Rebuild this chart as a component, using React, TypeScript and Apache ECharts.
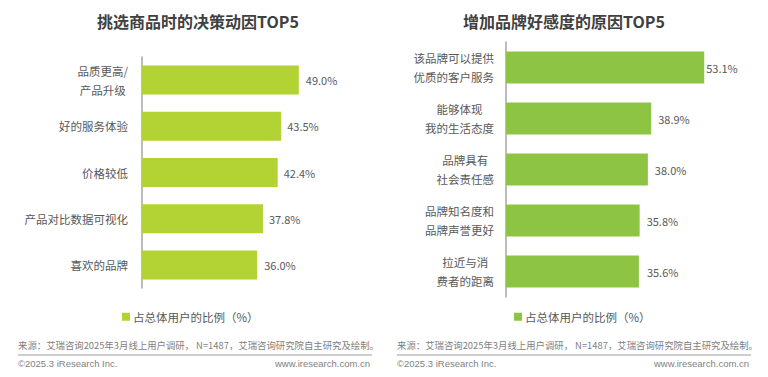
import React, { useEffect, useRef } from "react";
import * as echarts from "echarts";

const leftTitle = "挑选商品时的决策动因TOP5";
const leftCategories = ["品质更高/\n产品升级", "好的服务体验", "价格较低", "产品对比数据可视化", "喜欢的品牌"];
const leftValues = [49.0, 43.5, 42.4, 37.8, 36.0];

const rightTitle = "增加品牌好感度的原因TOP5";
const rightCategories = ["该品牌可以提供\n优质的客户服务", "能够体现\n我的生活态度", "品牌具有\n社会责任感", "品牌知名度和\n品牌声誉更好", "拉近与消\n费者的距离"];
const rightValues = [53.1, 38.9, 38.0, 35.8, 35.6];

const seriesName = "占总体用户的比例（%）";
const sourceText = "来源：艾瑞咨询2025年3月线上用户调研， N=1487，艾瑞咨询研究院自主研究及绘制。";
const copyrightText = "©2025.3 iResearch Inc.";
const siteText = "www.iresearch.com.cn";

const FONT = "'Noto Sans CJK SC', 'Noto Sans', sans-serif";
const LATIN = "'Liberation Sans', Arial, sans-serif";

type Cfg = {
  title: string;
  categories: string[];
  values: number[];
  color: string;
  titleX: number;
  gridLeft: number;
  gridTop: number;
  gridHeight: number;
  gridWidth: number;
  labelMargin: number;
  barWidth: number;
  labelDistance: number[];
  legendLeft: number;
  footLeft: number;
  footRight: number;
};

function buildOption(c: Cfg): any {
  const labelRich = {
    c: { align: "center", fontSize: 11.5, lineHeight: 19, color: "#595959", fontFamily: FONT },
  };
  return {
    animation: false,
    backgroundColor: "#ffffff",
    textStyle: { fontFamily: FONT },
    grid: {
      left: c.gridLeft,
      top: c.gridTop,
      width: c.gridWidth,
      height: c.gridHeight,
      containLabel: false,
    },
    xAxis: { type: "value", min: 0, max: 60, show: false },
    yAxis: {
      type: "category",
      inverse: true,
      data: c.categories,
      axisLine: { show: true, lineStyle: { color: "#a6a6a6", width: 1.5 } },
      axisTick: { show: false },
      splitLine: { show: false },
      axisLabel: {
        margin: c.labelMargin,
        align: "right",
        formatter: (v: string) =>
          v
            .split("\n")
            .map((l) => "{c|" + l + "}")
            .join("\n"),
        rich: labelRich,
      },
    },
    legend: {
      left: c.legendLeft,
      top: 306,
      icon: "rect",
      itemWidth: 8,
      itemHeight: 8,
      textStyle: { fontSize: 11.5, color: "#595959", fontFamily: FONT, padding: [0, 0, 0, -2] },
      data: [seriesName],
    },
    series: [
      {
        type: "bar",
        name: seriesName,
        barWidth: c.barWidth,
        itemStyle: { color: c.color },
        data: c.values.map((v, i) => ({
          value: v,
          label: { distance: c.labelDistance[i] },
        })),
        label: {
          show: true,
          position: "right",
          color: "#595959",
          fontSize: 11,
          fontFamily: FONT,
          formatter: (p: any) => Number(p.value).toFixed(1) + "%",
        },
      },
    ],
    graphic: [
      {
        type: "text",
        x: c.titleX,
        y: 21,
        style: {
          text: c.title,
          fontSize: 16,
          fontWeight: "bold",
          fill: "#404040",
          fontFamily: FONT,
          align: "center",
          verticalAlign: "middle",
        },
      },
      {
        type: "text",
        x: c.footLeft,
        y: 345,
        style: {
          text: sourceText,
          fontSize: 9.4,
          fill: "#7f7f7f",
          fontFamily: FONT,
          align: "left",
          verticalAlign: "middle",
        },
      },
      {
        type: "line",
        shape: { x1: c.footLeft, y1: 355, x2: c.footRight + 2, y2: 355 },
        style: { stroke: "#bfbfbf", lineWidth: 1.5 },
      },
      {
        type: "text",
        x: c.footLeft,
        y: 363,
        style: {
          text: copyrightText,
          fontSize: 9.5,
          fill: "#7f7f7f",
          fontFamily: LATIN,
          align: "left",
          verticalAlign: "middle",
        },
      },
      {
        type: "text",
        x: c.footRight,
        y: 363,
        style: {
          text: siteText,
          fontSize: 9.5,
          fill: "#7f7f7f",
          fontFamily: LATIN,
          align: "right",
          verticalAlign: "middle",
        },
      },
    ],
  };
}

const leftCfg: Cfg = {
  title: leftTitle,
  categories: leftCategories,
  values: leftValues,
  color: "#b3d234",
  titleX: 198,
  gridLeft: 142,
  gridTop: 57,
  gridHeight: 231,
  gridWidth: 192,
  labelMargin: 14,
  barWidth: 29,
  labelDistance: [7, 6, 6, 6, 7],
  legendLeft: 117,
  footLeft: 18,
  footRight: 370,
};

const rightCfg: Cfg = {
  title: rightTitle,
  categories: rightCategories,
  values: rightValues,
  color: "#8dc443",
  titleX: 180,
  gridLeft: 122,
  gridTop: 42,
  gridHeight: 255,
  gridWidth: 224,
  labelMargin: 12,
  barWidth: 32,
  labelDistance: [2, 7, 7, 7, 8],
  legendLeft: 125,
  footLeft: 13,
  footRight: 365,
};

function Panel({ cfg, left }: { cfg: Cfg; left: number }) {
  const ref = useRef<HTMLDivElement>(null);
  useEffect(() => {
    if (!ref.current) return;
    const chart = echarts.init(ref.current, undefined, { renderer: "svg" });
    chart.setOption(buildOption(cfg));
    return () => chart.dispose();
  }, [cfg]);
  return (
    <div
      ref={ref}
      style={{ position: "absolute", left, top: 0, width: 384, height: 377 }}
    />
  );
}

export default function App() {
  useEffect(() => {
    document.body.style.margin = "0";
  }, []);
  return (
    <div style={{ position: "relative", width: 768, height: 377, background: "#fff" }}>
      <Panel cfg={leftCfg} left={0} />
      <Panel cfg={rightCfg} left={384} />
    </div>
  );
}
